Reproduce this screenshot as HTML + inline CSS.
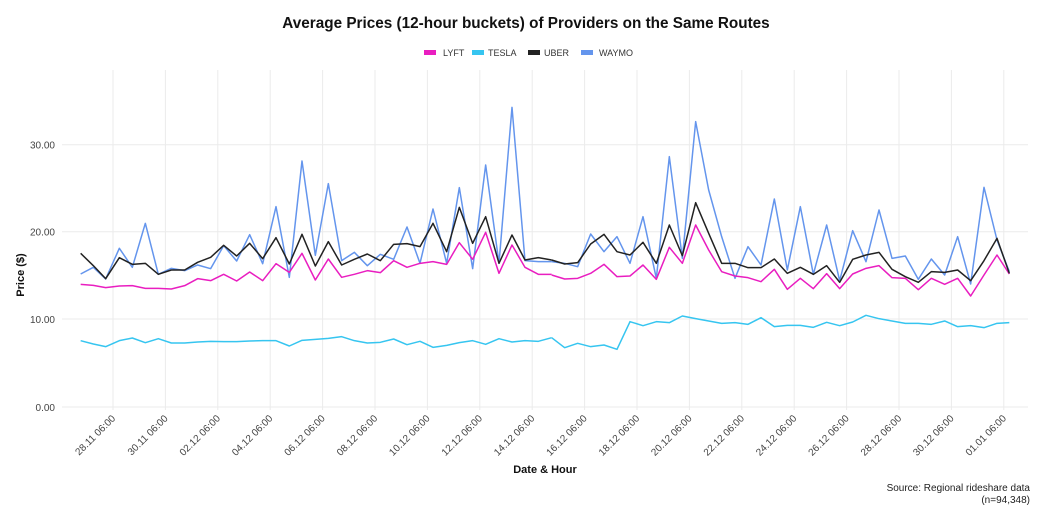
<!DOCTYPE html>
<html><head><meta charset="utf-8"><style>
html,body{margin:0;padding:0;background:#fff;}
svg{display:block;font-family:"Liberation Sans",sans-serif;}
</style></head><body>
<svg width="1040" height="520" viewBox="0 0 1040 520" xmlns="http://www.w3.org/2000/svg">
<rect width="1040" height="520" fill="#fff"/>
<text x="526" y="28" text-anchor="middle" font-size="15.3" font-weight="bold" fill="#111">Average Prices (12-hour buckets) of Providers on the Same Routes</text>
<g font-size="9" fill="#333">
<rect x="424" y="50" width="12" height="5" fill="#e91ec0"/><text x="443" y="56">LYFT</text>
<rect x="472" y="50" width="12" height="5" fill="#36c5f0"/><text x="488" y="56">TESLA</text>
<rect x="528" y="50" width="12" height="5" fill="#222"/><text x="544" y="56">UBER</text>
<rect x="581" y="50" width="12" height="5" fill="#6495ed"/><text x="599" y="56">WAYMO</text>
</g>
<g stroke="#ebebeb" stroke-width="1">
<line x1="62" x2="1028" y1="407" y2="407"/><line x1="62" x2="1028" y1="319" y2="319"/>
<line x1="62" x2="1028" y1="231.7" y2="231.7"/><line x1="62" x2="1028" y1="144.7" y2="144.7"/>
<line x1="113" x2="113" y1="70" y2="410"/><line x1="165.4" x2="165.4" y1="70" y2="410"/><line x1="217.8" x2="217.8" y1="70" y2="410"/><line x1="270.2" x2="270.2" y1="70" y2="410"/><line x1="322.6" x2="322.6" y1="70" y2="410"/><line x1="375" x2="375" y1="70" y2="410"/><line x1="427.4" x2="427.4" y1="70" y2="410"/><line x1="479.8" x2="479.8" y1="70" y2="410"/><line x1="532.2" x2="532.2" y1="70" y2="410"/><line x1="584.6" x2="584.6" y1="70" y2="410"/><line x1="637" x2="637" y1="70" y2="410"/><line x1="689.4" x2="689.4" y1="70" y2="410"/><line x1="741.8" x2="741.8" y1="70" y2="410"/><line x1="794.2" x2="794.2" y1="70" y2="410"/><line x1="846.6" x2="846.6" y1="70" y2="410"/><line x1="899" x2="899" y1="70" y2="410"/><line x1="951.4" x2="951.4" y1="70" y2="410"/><line x1="1003.8" x2="1003.8" y1="70" y2="410"/>
</g>
<g font-size="10" fill="#444" text-anchor="end">
<text x="55" y="411">0.00</text><text x="55" y="323">10.00</text><text x="55" y="235.5">20.00</text><text x="55" y="148.5">30.00</text>
</g>
<g font-size="10" fill="#444" text-anchor="end">
<text transform="translate(116,419) rotate(-45)">28.11 06:00</text>
<text transform="translate(168.4,419) rotate(-45)">30.11 06:00</text>
<text transform="translate(220.8,419) rotate(-45)">02.12 06:00</text>
<text transform="translate(273.2,419) rotate(-45)">04.12 06:00</text>
<text transform="translate(325.6,419) rotate(-45)">06.12 06:00</text>
<text transform="translate(378,419) rotate(-45)">08.12 06:00</text>
<text transform="translate(430.4,419) rotate(-45)">10.12 06:00</text>
<text transform="translate(482.8,419) rotate(-45)">12.12 06:00</text>
<text transform="translate(535.2,419) rotate(-45)">14.12 06:00</text>
<text transform="translate(587.6,419) rotate(-45)">16.12 06:00</text>
<text transform="translate(640,419) rotate(-45)">18.12 06:00</text>
<text transform="translate(692.4,419) rotate(-45)">20.12 06:00</text>
<text transform="translate(744.8,419) rotate(-45)">22.12 06:00</text>
<text transform="translate(797.2,419) rotate(-45)">24.12 06:00</text>
<text transform="translate(849.6,419) rotate(-45)">26.12 06:00</text>
<text transform="translate(902,419) rotate(-45)">28.12 06:00</text>
<text transform="translate(954.4,419) rotate(-45)">30.12 06:00</text>
<text transform="translate(1006.8,419) rotate(-45)">01.01 06:00</text>
</g>
<text x="545" y="473" text-anchor="middle" font-size="11" font-weight="bold" fill="#111">Date &amp; Hour</text>
<text transform="translate(24,275) rotate(-90)" text-anchor="middle" font-size="11" font-weight="bold" fill="#111">Price ($)</text>
<text x="1030" y="491" text-anchor="end" font-size="10" fill="#222">Source: Regional rideshare data</text>
<text x="1030" y="503" text-anchor="end" font-size="10" fill="#222">(n=94,348)</text>

<g fill="none" stroke-width="1.5" stroke-linejoin="round">
<g transform="translate(60,90) scale(0.33333)">
<polyline vector-effect="non-scaling-stroke" stroke="#36c5f0" points="62,752 100,762 137,770 178,752 217,744 256,758 295,746 334,759 374,759 413,756 452,754 491,755 530,755 569,753 608,752 648,752 688,768 726,751 766,748 805,745 845,740 883,752 922,759 961,757 1001,747 1041,764 1080,754 1119,772 1160,766 1198,758 1238,752 1277,763 1317,746 1356,756 1395,752 1435,754 1475,743"/>
<polyline vector-effect="non-scaling-stroke" stroke="#6495ed" points="62,552 100,532 137,567 178,475 217,532 256,400 295,553 334,535 374,542 413,525 452,536 491,467 530,513 569,434 608,521 648,350 688,562 726,213 766,496 805,281 845,512 883,487 922,527 961,493 1001,508 1041,411 1080,520 1119,357 1160,520 1198,293 1238,536 1277,225 1317,520 1356,52 1395,512 1435,515 1475,515"/>
<polyline vector-effect="non-scaling-stroke" stroke="#e91ec0" points="62,583 100,586 137,593 178,588 217,587 256,595 295,595 334,597 374,587 413,566 452,572 491,553 530,573 569,546 608,572 648,521 688,547 726,490 766,570 805,507 845,562 883,553 922,542 961,548 1001,512 1041,532 1080,520 1119,515 1160,523 1198,458 1238,508 1277,427 1317,550 1356,465 1395,532 1435,553 1475,553"/>
<polyline vector-effect="non-scaling-stroke" stroke="#222" points="62,490 100,527 137,566 178,503 217,523 256,520 295,553 334,540 374,540 413,517 452,502 491,466 530,498 569,460 608,506 648,443 688,522 726,433 766,528 805,455 845,525 883,508 922,492 961,512 1001,463 1041,461 1080,470 1119,400 1160,485 1198,352 1238,460 1277,380 1317,520 1356,435 1395,510 1435,503 1475,510"/>
</g>
<g transform="translate(540,90) scale(0.33333)">
<polyline vector-effect="non-scaling-stroke" stroke="#36c5f0" points="35,743 74,773 113,760 152,770 192,765 231,778 270,695 309,707 349,695 388,698 427,678 467,686 506,693 545,700 585,698 624,703 663,683 703,710 742,706 781,706 820,712 860,697 899,707 938,696 978,676 1017,686 1056,693 1096,700 1135,700 1174,703 1214,693 1253,710 1292,707 1332,713 1371,700 1408,698"/>
<polyline vector-effect="non-scaling-stroke" stroke="#6495ed" points="35,515 74,520 113,530 152,432 192,485 231,440 270,520 309,380 349,565 388,200 427,505 467,95 506,300 545,440 585,565 624,470 663,525 703,327 742,540 781,350 820,553 860,405 899,572 938,422 978,515 1017,360 1056,505 1096,498 1135,568 1174,507 1214,555 1253,440 1292,582 1332,292 1371,450 1408,545"/>
<polyline vector-effect="non-scaling-stroke" stroke="#e91ec0" points="35,555 74,567 113,565 152,550 192,523 231,560 270,558 309,525 349,568 388,472 427,520 467,405 506,480 545,545 585,558 624,563 663,575 703,538 742,598 781,565 820,596 860,551 899,596 938,552 978,535 1017,527 1056,563 1096,565 1135,599 1174,565 1214,583 1253,565 1292,618 1332,555 1371,495 1408,552"/>
<polyline vector-effect="non-scaling-stroke" stroke="#222" points="35,510 74,522 113,518 152,462 192,433 231,485 270,495 309,457 349,520 388,405 427,497 467,338 506,430 545,520 585,520 624,533 663,533 703,507 742,550 781,532 820,553 860,527 899,577 938,508 978,495 1017,487 1056,538 1096,560 1135,577 1174,545 1214,547 1253,540 1292,572 1332,512 1371,445 1408,550"/>
</g>
</g>
</svg>
</body></html>
